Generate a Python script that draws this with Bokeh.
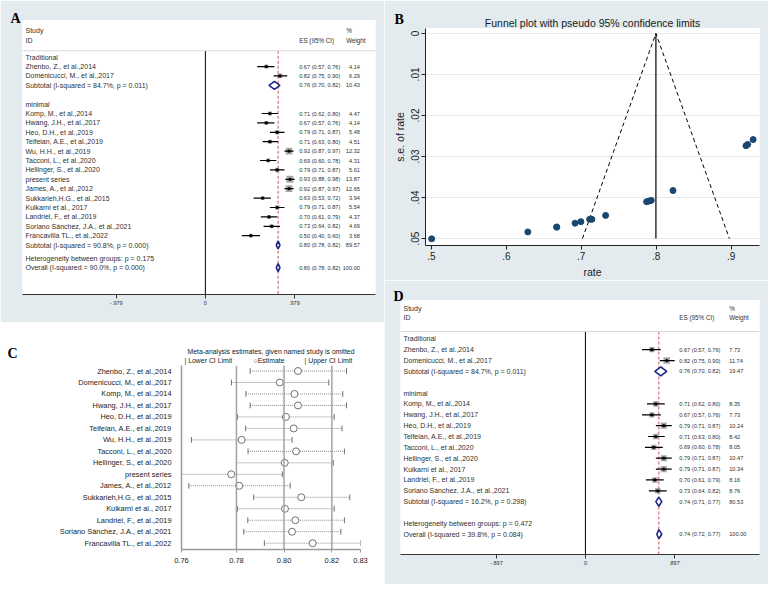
import math
from bokeh.plotting import figure
from bokeh.layouts import row, column
from bokeh.models import Range1d, FixedTicker, Label, Span
from bokeh.core.properties import value
from bokeh.embed import file_html
from bokeh.resources import INLINE

BG = "#E3EBEE"
SANS = "Liberation Sans"
SERIF = "Liberation Serif"
INK = "#303030"
NAVY = "#1c2487"
REDDASH = "#d0505e"
BOXGREY = "#a8a8a8"
MARK = "#1A476F"

# ---------------- Panel A: forest plot (all studies) ----------------
A_TRAD_STUDIES = ["Zhenbo, Z., et al.,2014", "Domenicucci, M., et al.,2017"]
A_TRAD_ES = [0.67, 0.82]
A_TRAD_LO = [0.57, 0.75]
A_TRAD_HI = [0.76, 0.90]
A_TRAD_W = [4.14, 6.29]
A_TRAD_SUB = [0.76, 0.70, 0.82, 10.43]
A_TRAD_I2, A_TRAD_P = "84.7%", "0.011"
A_MIN_STUDIES = ["Komp, M., et al.,2014", "Hwang, J.H., et al.,2017", "Heo, D.H., et al.,2019",
                 "Telfeian, A.E., et al.,2019", "Wu, H.H., et al.,2019", "Tacconi, L., et al.,2020",
                 "Hellinger, S., et al.,2020", "present series", "James, A., et al.,2012",
                 "Sukkarieh,H.G., et al.,2015", "Kulkarni et al., 2017", "Landriel, F., et al.,2019",
                 "Soriano Sánchez, J.A., et al.,2021", "Francavilla TL., et al.,2022"]
A_MIN_ES = [0.71, 0.67, 0.79, 0.71, 0.92, 0.69, 0.79, 0.93, 0.92, 0.63, 0.79, 0.70, 0.73, 0.50]
A_MIN_LO = [0.62, 0.57, 0.71, 0.63, 0.87, 0.60, 0.71, 0.88, 0.87, 0.53, 0.71, 0.61, 0.64, 0.40]
A_MIN_HI = [0.80, 0.76, 0.87, 0.80, 0.97, 0.78, 0.87, 0.98, 0.97, 0.72, 0.87, 0.79, 0.82, 0.60]
A_MIN_W = [4.47, 4.14, 5.48, 4.51, 12.32, 4.31, 5.61, 13.87, 12.65, 3.94, 5.54, 4.37, 4.69, 3.68]
A_MIN_SUB = [0.80, 0.78, 0.82, 89.57]
A_MIN_I2, A_MIN_P = "90.8%", "0.000"
A_HET_P = "0.175"
A_OVERALL = [0.80, 0.78, 0.82, 100.00]
A_OV_I2, A_OV_P = "90.0%", "0.000"
A_XTICKS = [-0.979, 0, 0.979]
A_XTICK_LABELS = ["-.979", "0", ".979"]

# ---------------- Panel B: funnel plot ----------------
B_STUDIES = ["Zhenbo", "Domenicucci", "Komp", "Hwang", "Heo", "Telfeian", "Wu", "Tacconi",
             "Hellinger", "present series", "James", "Sukkarieh", "Kulkarni", "Landriel",
             "Soriano Sánchez", "Francavilla"]
B_RATE = [0.6673, 0.8224, 0.7142, 0.6673, 0.7904, 0.7112, 0.9198, 0.6917,
          0.7934, 0.9293, 0.9220, 0.6287, 0.7872, 0.6995, 0.7325, 0.5004]
B_SE = [0.04721, 0.0383, 0.04531, 0.04721, 0.04088, 0.04531, 0.02738, 0.04626,
        0.04071, 0.02588, 0.02707, 0.0484, 0.04102, 0.04588, 0.04436, 0.05007]
B_POOLED = 0.7996
B_SE_MAX = 0.05
B_XTICKS = [0.5, 0.6, 0.7, 0.8, 0.9]
B_XTICK_LABELS = [".5", ".6", ".7", ".8", ".9"]
B_YTICKS = [0, 0.01, 0.02, 0.03, 0.04, 0.05]
B_YTICK_LABELS = ["0", ".01", ".02", ".03", ".04", ".05"]

# ---------------- Panel C: leave-one-out ----------------
C_STUDIES = ["Zhenbo, Z., et al.,2014", "Domenicucci, M., et al.,2017", "Komp, M., et al.,2014",
             "Hwang, J.H., et al.,2017", "Heo, D.H., et al.,2019", "Telfeian, A.E., et al.,2019",
             "Wu, H.H., et al.,2019", "Tacconi, L., et al.,2020", "Hellinger, S., et al.,2020",
             "present series", "James, A., et al.,2012", "Sukkarieh,H.G., et al.,2015",
             "Kulkarni et al., 2017", "Landriel, F., et al.,2019",
             "Soriano Sánchez, J.A., et al.,2021", "Francavilla TL., et al.,2022"]
C_LOWER = [0.7853, 0.7774, 0.7835, 0.7853, 0.7799, 0.7834, 0.7605, 0.7844,
           0.7795, 0.7563, 0.7594, 0.7868, 0.7799, 0.7843, 0.7826, 0.7913]
C_EST = [0.8055, 0.7978, 0.8040, 0.8055, 0.8004, 0.8037, 0.7817, 0.8047,
         0.7999, 0.7773, 0.7807, 0.8069, 0.8000, 0.8044, 0.8030, 0.8117]
C_UPPER = [0.8260, 0.8185, 0.8244, 0.8260, 0.8208, 0.8241, 0.8030, 0.8251,
           0.8204, 0.7989, 0.8022, 0.8274, 0.8208, 0.8251, 0.8236, 0.8319]
C_OVERALL = [0.7795, 0.7996, 0.8198]
C_XTICKS = [0.7563, 0.7795, 0.7996, 0.8198, 0.8319]
C_XTICK_LABELS = ["0.76", "0.78", "0.80", "0.82", "0.83"]

# ---------------- Panel D: forest plot (subset) ----------------
D_TRAD_STUDIES = ["Zhenbo, Z., et al.,2014", "Domenicucci, M., et al.,2017"]
D_TRAD_ES = [0.67, 0.82]
D_TRAD_LO = [0.57, 0.75]
D_TRAD_HI = [0.76, 0.90]
D_TRAD_W = [7.73, 11.74]
D_TRAD_SUB = [0.76, 0.70, 0.82, 19.47]
D_TRAD_I2, D_TRAD_P = "84.7%", "0.011"
D_MIN_STUDIES = ["Komp, M., et al.,2014", "Hwang, J.H., et al.,2017", "Heo, D.H., et al.,2019",
                 "Telfeian, A.E., et al.,2019", "Tacconi, L., et al.,2020",
                 "Hellinger, S., et al.,2020", "Kulkarni et al., 2017", "Landriel, F., et al.,2019",
                 "Soriano Sánchez, J.A., et al.,2021"]
D_MIN_ES = [0.71, 0.67, 0.79, 0.71, 0.69, 0.79, 0.79, 0.70, 0.73]
D_MIN_LO = [0.62, 0.57, 0.71, 0.63, 0.60, 0.71, 0.71, 0.61, 0.64]
D_MIN_HI = [0.80, 0.76, 0.87, 0.80, 0.78, 0.87, 0.87, 0.79, 0.82]
D_MIN_W = [8.35, 7.73, 10.24, 8.42, 8.05, 10.47, 10.34, 8.16, 8.76]
D_MIN_SUB = [0.74, 0.71, 0.77, 80.53]
D_MIN_I2, D_MIN_P = "16.2%", "0.298"
D_HET_P = "0.472"
D_OVERALL = [0.74, 0.72, 0.77, 100.00]
D_OV_I2, D_OV_P = "39.8%", "0.084"
D_XTICKS = [-0.897, 0, 0.897]
D_XTICK_LABELS = ["-.897", "0", ".897"]

BOXK = 1.9
DH = 0.42


def to_data(geom, px, py):
    W, H, border, xr, ytop, ybot = geom
    l, r, t, b = border
    fw = W - l - r
    fh = H - t - b
    x = xr[0] + (px - l) / fw * (xr[1] - xr[0])
    y = ytop + (py - t) / fh * (ybot - ytop)
    return x, y


def base_fig(geom, bfill, **kw):
    W, H, border, xr, ytop, ybot = geom
    l, r, t, b = border
    p = figure(width=W, height=H, output_backend="svg", toolbar_location=None,
               x_range=Range1d(xr[0], xr[1]), y_range=Range1d(ybot, ytop),
               min_border_left=l, min_border_right=r, min_border_top=t, min_border_bottom=b,
               border_fill_color=bfill, background_fill_color="white",
               outline_line_color=None, frame_align=False, **kw)
    p.xgrid.visible = False
    p.ygrid.visible = False
    return p


def add_label(p, geom, px, py, text, size, font=SANS, style="normal", align="left", color=INK):
    x, y = to_data(geom, px, py)
    p.add_layout(Label(x=x, y=y, text=text, text_font=font, text_font_style=style,
                       text_font_size=size, text_align=align, text_baseline="alphabetic",
                       text_color=color), "above")


def forest(groups, het_p, overall, ov_i2, ov_p, xticks, xlabels, het_gap, geom, lay, letter, letter_px):
    W, H, border, xr, ytop, ybot = geom
    p = base_fig(geom, BG, y_axis_location=None)

    lab_y, lab_t = [], []
    st_y, st_es, st_lo, st_hi, st_sz = [], [], [], [], []
    num_y, num_t, wt_t = [], [], []
    dxs, dys = [], []

    def diamond(e, a, b, yy):
        dxs.append([a, e, b, e])
        dys.append([yy, yy - DH, yy, yy + DH])

    r = 0
    last_sub = 0
    for name, studies, es, lo, hi, w, sub, i2, pv in groups:
        lab_y.append(r); lab_t.append(name); r += 1
        for s, e, a, b, ww in zip(studies, es, lo, hi, w):
            lab_y.append(r); lab_t.append(s)
            st_y.append(r); st_es.append(e); st_lo.append(a); st_hi.append(b)
            st_sz.append(BOXK * math.sqrt(ww))
            num_y.append(r); num_t.append(f"{e:.2f} ({a:.2f}, {b:.2f})"); wt_t.append(f"{ww:.2f}")
            r += 1
        lab_y.append(r); lab_t.append(f"Subtotal  (I-squared = {i2}, p = {pv})")
        num_y.append(r); num_t.append(f"{sub[0]:.2f} ({sub[1]:.2f}, {sub[2]:.2f})")
        wt_t.append(f"{sub[3]:.2f}")
        diamond(sub[0], sub[1], sub[2], r)
        last_sub = r
        r += 2
    het_row = last_sub + het_gap
    ov_row = het_row + 1
    lab_y += [het_row, ov_row]
    lab_t += [f"Heterogeneity between groups: p = {het_p}",
              f"Overall  (I-squared = {ov_i2}, p = {ov_p})"]
    num_y.append(ov_row)
    num_t.append(f"{overall[0]:.2f} ({overall[1]:.2f}, {overall[2]:.2f})")
    wt_t.append(f"{overall[3]:.2f}")
    diamond(overall[0], overall[1], overall[2], ov_row)

    sep = lay["sep_y"]
    p.add_layout(Span(location=sep, dimension="width", line_color="#d3dbde", line_width=1))
    p.segment(x0=[0], y0=[sep], x1=[0], y1=[ybot], line_color="black", line_width=1)
    p.segment(x0=[overall[0]], y0=[sep], x1=[overall[0]], y1=[ybot],
              line_color=REDDASH, line_width=1, line_dash="3 2")
    p.scatter(x=st_es, y=st_y, size=st_sz, marker="square", fill_color=BOXGREY, line_color=None)
    p.segment(x0=st_lo, y0=st_y, x1=st_hi, y1=st_y, line_color="black", line_width=1.2)
    p.scatter(x=st_es, y=st_y, size=3.2, marker="circle", fill_color="black", line_color=None)
    p.patches(xs=dxs, ys=dys, fill_color="white", line_color=NAVY, line_width=1.6)

    common = dict(text_font=value(SANS), text_baseline="middle", text_color=INK)
    p.text(x=[lay["label_x"]] * len(lab_y), y=lab_y, text=lab_t, text_align="left",
           text_font_size=value(lay["label_fs"]), **common)
    p.text(x=[lay["label_x"]] * 2, y=[lay["study_hdr_y"], lay["id_hdr_y"]], text=["Study", "ID"],
           text_align="left", text_font_size=value(lay["label_fs"]), **common)
    p.text(x=[lay["es_x"], lay["hdr_w_x"], lay["hdr_w_x"]],
           y=[lay["id_hdr_y"], lay["study_hdr_y"], lay["id_hdr_y"]],
           text=["ES (95% CI)", "%", "Weight"], text_align="left",
           text_font_size=value(lay["hdr_fs"]), **common)
    p.text(x=[lay["es_x"]] * len(num_y), y=num_y, text=num_t, text_align="left",
           text_font_size=value(lay["es_fs"]), **common)
    p.text(x=[lay["w_x"]] * len(num_y), y=num_y, text=wt_t, text_align=lay["w_align"],
           text_font_size=value(lay["es_fs"]), **common)

    ax = p.xaxis[0]
    ax.ticker = FixedTicker(ticks=xticks)
    ax.major_label_overrides = {t: s for t, s in zip(xticks, xlabels)}
    ax.minor_tick_line_color = None
    ax.major_tick_in = 0
    ax.major_tick_out = 4
    ax.axis_line_color = "#333333"
    ax.major_tick_line_color = "#333333"
    ax.major_label_text_font = SANS
    ax.major_label_text_font_size = "5.5px"
    ax.major_label_text_color = INK
    ax.major_label_standoff = 2

    add_label(p, geom, letter_px[0], letter_px[1], letter, "14px", font=SERIF, style="bold", color="black")
    return p


# ---------- build A ----------
geomA = (384, 322, (22, 9, 20, 28), (-2.011, 1.871), -3.9, 25.26)
layA = dict(label_x=-1.978, es_x=1.032, w_x=1.699, w_align="right", hdr_w_x=1.548,
            study_hdr_y=-2.86, id_hdr_y=-1.82, sep_y=-0.68,
            label_fs="7px", es_fs="5.6px", hdr_fs="6.3px")
groupsA = [("Traditional", A_TRAD_STUDIES, A_TRAD_ES, A_TRAD_LO, A_TRAD_HI, A_TRAD_W, A_TRAD_SUB, A_TRAD_I2, A_TRAD_P),
           ("minimal", A_MIN_STUDIES, A_MIN_ES, A_MIN_LO, A_MIN_HI, A_MIN_W, A_MIN_SUB, A_MIN_I2, A_MIN_P)]
pA = forest(groupsA, A_HET_P, A_OVERALL, A_OV_I2, A_OV_P, A_XTICKS, A_XTICK_LABELS, 1.4,
            geomA, layA, "A", (10, 18))

# ---------- build D ----------
geomD = (384, 304, (16, 9, 20, 30), (-1.864, 1.755), -3.53, 19.87)
layD = dict(label_x=-1.834, es_x=0.947, w_x=1.450, w_align="left", hdr_w_x=1.450,
            study_hdr_y=-2.81, id_hdr_y=-1.92, sep_y=-0.67,
            label_fs="7px", es_fs="5.6px", hdr_fs="6.3px")
groupsD = [("Traditional", D_TRAD_STUDIES, D_TRAD_ES, D_TRAD_LO, D_TRAD_HI, D_TRAD_W, D_TRAD_SUB, D_TRAD_I2, D_TRAD_P),
           ("minimal", D_MIN_STUDIES, D_MIN_ES, D_MIN_LO, D_MIN_HI, D_MIN_W, D_MIN_SUB, D_MIN_I2, D_MIN_P)]
pD = forest(groupsD, D_HET_P, D_OVERALL, D_OV_I2, D_OV_P, D_XTICKS, D_XTICK_LABELS, 2,
            geomD, layD, "D", (9, 16))

# ---------- build B ----------
geomB = (384, 280, (41, 9, 28, 34), (0.4922, 0.9378), -0.0012, 0.0517)
pB = base_fig(geomB, BG)
f_x = [B_POOLED - 1.96 * B_SE_MAX, B_POOLED, B_POOLED + 1.96 * B_SE_MAX]
f_y = [B_SE_MAX, 0, B_SE_MAX]
pB.ygrid.visible = True
pB.ygrid.grid_line_color = "#e2ecef"
pB.ygrid.grid_line_width = 1
pB.line(x=f_x, y=f_y, line_color="black", line_width=1, line_dash="4 3")
pB.segment(x0=[B_POOLED], y0=[0], x1=[B_POOLED], y1=[B_SE_MAX], line_color="black", line_width=1.2)
pB.scatter(x=B_RATE, y=B_SE, size=6, marker="circle", fill_color=MARK, line_color=MARK)
xa = pB.xaxis[0]
xa.ticker = FixedTicker(ticks=B_XTICKS)
xa.major_label_overrides = {t: s for t, s in zip(B_XTICKS, B_XTICK_LABELS)}
xa.axis_label = "rate"
ya = pB.yaxis[0]
ya.ticker = FixedTicker(ticks=B_YTICKS)
ya.major_label_overrides = {t: s for t, s in zip(B_YTICKS, B_YTICK_LABELS)}
ya.axis_label = "s.e. of rate"
ya.major_label_orientation = "vertical"
for a in (xa, ya):
    a.minor_tick_line_color = None
    a.major_tick_in = 0
    a.major_tick_out = 4
    a.axis_line_color = "#222222"
    a.major_tick_line_color = "#222222"
    a.major_label_text_font = SANS
    a.major_label_text_font_size = "10px"
    a.major_label_text_color = "#222222"
    a.major_label_standoff = 2
    a.axis_label_text_font = SANS
    a.axis_label_text_font_style = "normal"
    a.axis_label_text_font_size = "10.5px"
    a.axis_label_text_color = "#222222"
    a.axis_label_standoff = 3
add_label(pB, geomB, 10, 19, "B", "14px", font=SERIF, style="bold", color="black")
add_label(pB, geomB, 41 + 334 / 2, 22.5, "Funnel plot with pseudo 95% confidence limits",
          "10.5px", align="center", color="#1a1a1a")

# ---------- build C ----------
geomC = (384, 262, (181, 24, 30, 35), (min(C_LOWER), max(C_UPPER)), -0.48, 15.55)
pC = base_fig(geomC, "white")
rowsC = list(range(len(C_STUDIES)))
for v in C_OVERALL:
    pC.add_layout(Span(location=v, dimension="height", line_color="#a3a3a3", line_width=1.5))
pC.segment(x0=C_LOWER, y0=rowsC, x1=C_UPPER, y1=rowsC, line_color="#8a8a8a", line_width=1, line_dash="1 1")
pC.segment(x0=C_LOWER, y0=[r - 0.25 for r in rowsC], x1=C_LOWER, y1=[r + 0.25 for r in rowsC],
           line_color="#707070", line_width=1)
pC.segment(x0=C_UPPER, y0=[r - 0.25 for r in rowsC], x1=C_UPPER, y1=[r + 0.25 for r in rowsC],
           line_color="#707070", line_width=1)
pC.scatter(x=C_EST, y=rowsC, size=7, marker="circle", fill_color="white", line_color="#707070", line_width=1)
cx = pC.xaxis[0]
cx.ticker = FixedTicker(ticks=C_XTICKS)
cx.major_label_overrides = {t: s for t, s in zip(C_XTICKS, C_XTICK_LABELS)}
cx.major_tick_out = 3
cx.major_tick_in = 0
cx.major_label_text_font_size = "7.5px"
cy = pC.yaxis[0]
cy.ticker = FixedTicker(ticks=rowsC)
cy.major_label_overrides = {i: s for i, s in zip(rowsC, C_STUDIES)}
cy.major_tick_line_color = None
cy.major_label_text_font_size = "7.4px"
cy.major_label_standoff = 4
for a in (cx, cy):
    a.minor_tick_line_color = None
    a.axis_line_color = "#9a9a9a"
    a.axis_line_width = 1.5
    a.major_label_text_font = SANS
    a.major_label_text_color = "#222222"
cx.major_tick_line_color = "#9a9a9a"
add_label(pC, geomC, 7, 17, "C", "14px", font=SERIF, style="bold", color="black")
add_label(pC, geomC, 181 + 179 / 2, 15.5, "Meta-analysis estimates, given named study is omitted",
          "6.9px", align="center", color="#1a1a1a")
add_label(pC, geomC, 184, 24.5, "| Lower CI Limit", "6.9px", color="#1a1a1a")
add_label(pC, geomC, 253, 24.5, "\u25cbEstimate", "6.9px", color="#1a1a1a")
add_label(pC, geomC, 304, 24.5, "| Upper CI Limit", "6.9px", color="#1a1a1a")

layout = row(column(pA, pC), column(pB, pD))
open("out.html", "w").write(file_html(layout, INLINE))
